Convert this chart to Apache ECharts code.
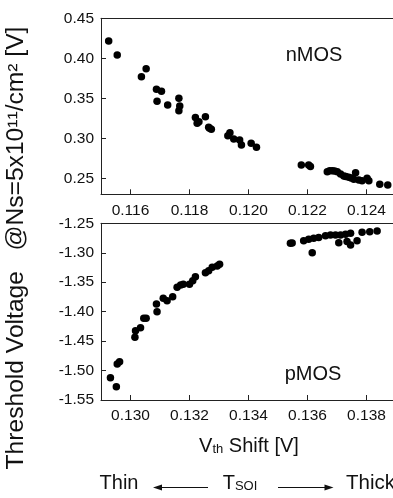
<!DOCTYPE html>
<html>
<head>
<meta charset="utf-8">
<script src="https://cdn.jsdelivr.net/npm/echarts@6/dist/echarts.min.js"></script>
<style>
html,body{margin:0;padding:0;background:#fff;overflow:hidden;}
#c{width:393px;height:498px;}
</style>
</head>
<body>
<div id="c"></div>
<script>
// ---- data ----
var nmosPoints = [
  [0.11526,0.4216],[0.11555,0.4041],[0.11637,0.3770],[0.11653,0.3870],
  [0.11688,0.3613],[0.11705,0.3587],[0.11690,0.3462],[0.11726,0.3416],
  [0.11764,0.3500],[0.11767,0.3404],[0.11764,0.3345],[0.11820,0.3259],
  [0.11832,0.3208],[0.11826,0.3187],[0.11854,0.3270],[0.11865,0.3137],
  [0.11874,0.3112],[0.11868,0.3125],[0.11937,0.3070],[0.11930,0.3033],
  [0.11950,0.2991],[0.11970,0.2979],[0.11976,0.2916],[0.12009,0.2937],
  [0.12027,0.2887],[0.12179,0.2666],[0.12204,0.2666],[0.12210,0.2646],
  [0.12267,0.2583],[0.12275,0.2595],[0.12284,0.2595],[0.12292,0.2590],
  [0.12301,0.2583],[0.12312,0.2554],[0.12323,0.2529],[0.12330,0.2521],
  [0.12340,0.2513],[0.12348,0.2505],[0.12363,0.2570],[0.12357,0.2488],
  [0.12374,0.2479],[0.12385,0.2470],[0.12402,0.2500],[0.12408,0.2470],
  [0.12445,0.2425],[0.12472,0.2416]
];
var pmosPoints = [
  [0.12932,-1.5121],[0.12952,-1.5274],[0.12955,-1.4889],[0.12963,-1.4850],
  [0.13015,-1.4436],[0.13017,-1.4323],[0.13034,-1.4272],[0.13045,-1.4113],
  [0.13053,-1.4113],[0.13090,-1.4001],[0.13088,-1.3870],[0.13111,-1.3773],
  [0.13124,-1.3814],[0.13143,-1.3746],[0.13158,-1.3587],[0.13170,-1.3548],
  [0.13179,-1.3536],[0.13200,-1.3536],[0.13211,-1.3474],[0.13220,-1.3406],
  [0.13254,-1.3339],[0.13265,-1.3305],[0.13277,-1.3248],[0.13294,-1.3224],
  [0.13302,-1.3196],
  [0.13542,-1.2840],[0.13548,-1.2835],[0.13587,-1.2795],[0.13604,-1.2772],
  [0.13621,-1.2755],[0.13616,-1.2999],[0.13638,-1.2743],[0.13661,-1.2710],
  [0.13678,-1.2699],[0.13695,-1.2699],[0.13712,-1.2699],[0.13729,-1.2687],
  [0.13746,-1.2670],[0.13706,-1.2829],[0.13734,-1.2811],[0.13746,-1.2868],
  [0.13768,-1.2795],[0.13785,-1.2653],[0.13811,-1.2642],[0.13836,-1.2631]
];
var topXTicks = [0.116,0.118,0.120,0.122,0.124];
var topYTicks = [0.25,0.30,0.35,0.40,0.45];
var botXTicks = [0.130,0.132,0.134,0.136,0.138];
var botYTicks = [-1.55,-1.50,-1.45,-1.40,-1.35,-1.30,-1.25];
var topXRange = [0.115,0.125], topYRange = [0.23,0.45];
var botXRange = [0.129,0.139], botYRange = [-1.55,-1.25];

var FONT = 'Liberation Sans, Arial, sans-serif';
var chart = echarts.init(document.getElementById('c'), null, {renderer:'canvas'});

function xAxisDef(idx, range, ticks){
  return {
    type:'value', gridIndex:idx, min:range[0], max:range[1], position:'bottom',
    axisLine:{show:true, onZero:false, lineStyle:{color:'#222', width:1}},
    axisTick:{show:true, inside:true, length:5, customValues:ticks, lineStyle:{color:'#222'}},
    axisLabel:{show:true, customValues:ticks, margin:8, color:'#111', fontSize:15.5, fontFamily:FONT,
      formatter:function(v){return v.toFixed(3);}},
    splitLine:{show:false}
  };
}
function topFrameAxis(idx, range){
  return {
    type:'value', gridIndex:idx, min:range[0], max:range[1], position:'top',
    axisLine:{show:true, onZero:false, lineStyle:{color:'#222', width:1}},
    axisTick:{show:false}, axisLabel:{show:false}, splitLine:{show:false}
  };
}
function yAxisDef(idx, range, ticks){
  return {
    type:'value', gridIndex:idx, min:range[0], max:range[1],
    axisLine:{show:true, onZero:false, lineStyle:{color:'#222', width:1}},
    axisTick:{show:true, inside:true, length:5, customValues:ticks, lineStyle:{color:'#222'}},
    axisLabel:{show:true, customValues:ticks, margin:7, color:'#111', fontSize:15.5, fontFamily:FONT,
      formatter:function(v){return v.toFixed(2);}},
    splitLine:{show:false}
  };
}

var option = {
  animation:false,
  backgroundColor:'#fff',
  grid:[
    {left:101, top:18.3, width:295, height:176, containLabel:false, outerBoundsMode:'none'},
    {left:101, top:223.3, width:295, height:176.7, containLabel:false, outerBoundsMode:'none'}
  ],
  xAxis:[xAxisDef(0, topXRange, topXTicks), xAxisDef(1, botXRange, botXTicks),
         topFrameAxis(0, topXRange), topFrameAxis(1, botXRange)],
  yAxis:[yAxisDef(0, topYRange, topYTicks), yAxisDef(1, botYRange, botYTicks)],
  series:[
    {type:'scatter', xAxisIndex:0, yAxisIndex:0, data:nmosPoints, symbolSize:7.5,
      itemStyle:{color:'#000', opacity:1}},
    {type:'scatter', xAxisIndex:1, yAxisIndex:1, data:pmosPoints, symbolSize:7.5,
      itemStyle:{color:'#000', opacity:1}}
  ],
  graphic:[
    {type:'text', x:314, y:55, style:{text:'nMOS', fontSize:20, fontFamily:FONT, fill:'#111', align:'center', verticalAlign:'middle'}},
    {type:'text', x:313, y:374, style:{text:'pMOS', fontSize:20, fontFamily:FONT, fill:'#111', align:'center', verticalAlign:'middle'}},
    {type:'text', x:17, y:248, rotation:Math.PI/2, scaleX:1.07,
      style:{text:'Threshold Voltage   @Ns=5x10¹¹/cm² [V]', fontSize:23, fontFamily:FONT, fill:'#111', align:'center', verticalAlign:'middle'}},
    {type:'text', x:249, y:446,
      style:{text:'V{sub|th} Shift [V]', fontSize:20, fontFamily:FONT, fill:'#111', align:'center', verticalAlign:'middle',
        rich:{sub:{fontSize:13, fontFamily:FONT, fill:'#111', verticalAlign:'bottom', lineHeight:12}}}},
    {type:'text', x:119, y:483,
      style:{text:'Thin', fontSize:20, fontFamily:FONT, fill:'#111', align:'center', verticalAlign:'middle'}},
    {type:'text', x:240, y:483,
      style:{text:'T{sub|SOI}', fontSize:20, fontFamily:FONT, fill:'#111', align:'center', verticalAlign:'middle',
        rich:{sub:{fontSize:13, fontFamily:FONT, fill:'#111', verticalAlign:'bottom', lineHeight:12}}}},
    {type:'text', x:346, y:483,
      style:{text:'Thick', fontSize:20.5, fontFamily:FONT, fill:'#111', align:'left', verticalAlign:'middle'}},
    {type:'line', shape:{x1:160, y1:487.5, x2:208, y2:487.5}, style:{stroke:'#111', lineWidth:1.2}},
    {type:'polygon', shape:{points:[[153,487.5],[162,484.5],[162,490.5]]}, style:{fill:'#111'}},
    {type:'line', shape:{x1:278, y1:487.5, x2:326, y2:487.5}, style:{stroke:'#111', lineWidth:1.2}},
    {type:'polygon', shape:{points:[[333.5,487.5],[324.5,484.5],[324.5,490.5]]}, style:{fill:'#111'}}
  ]
};
chart.setOption(option);
</script>
</body>
</html>
